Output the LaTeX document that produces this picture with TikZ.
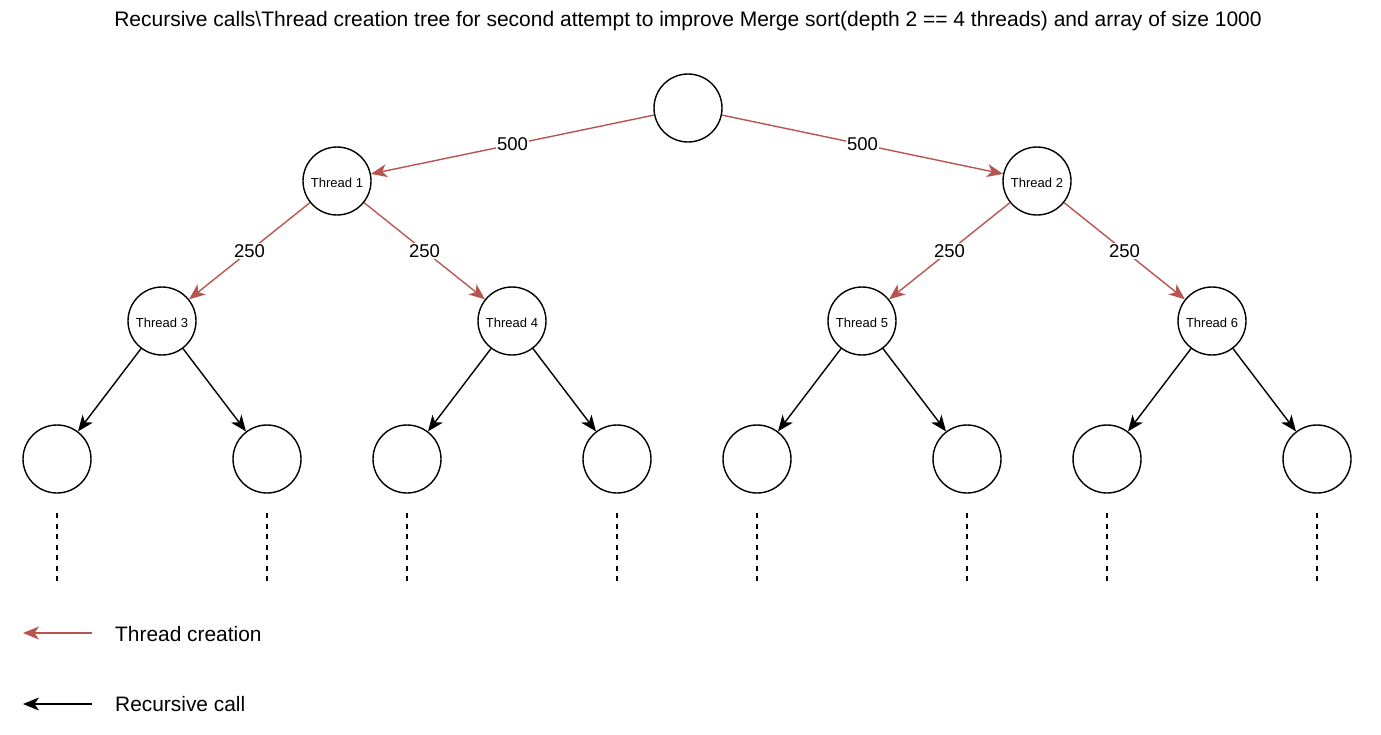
\documentclass[tikz,border=0pt]{standalone}
\usepackage{fontspec}
\setmainfont{Liberation Sans}
\usetikzlibrary{arrows.meta}
\definecolor{tred}{HTML}{B85450}
\tikzset{
  nd/.style={circle,draw=black,line width=1.4pt,minimum size=68pt,inner sep=0pt,font=\fontsize{13}{15}\selectfont},
  redarr/.style={draw=tred,line width=1.4pt,-{Stealth[length=16pt,width=13pt,inset=4.5pt,fill=tred]}},
  blkarr/.style={draw=black,line width=1.4pt,-{Stealth[length=16pt,width=13pt,inset=4.5pt]}},
  lbl/.style={fill=white,inner sep=1pt,font=\fontsize{18.5}{20}\selectfont},
  dots/.style={draw=black,line width=1.5pt,dash pattern=on 5pt off 5.5pt},
  legtxt/.style={anchor=west,inner sep=0pt,font=\fontsize{20.9}{22}\selectfont}
}
\newcommand{\tlab}[1]{\raisebox{-6.5pt}[0pt][0pt]{#1}}
\begin{document}
\begin{tikzpicture}[x=1pt,y=-1pt]
\useasboundingbox (0,0) rectangle (1381,734);
\node[font=\fontsize{21}{23}\selectfont] (title) at (688,21) {Recursive calls\textbackslash Thread creation tree for second attempt to improve Merge sort(depth 2 == 4 threads) and array of size 1000};
\node[nd] (r) at (688,108) {};
\node[nd] (t1) at (337,181) {\tlab{Thread 1}};
\node[nd] (t2) at (1037,181) {\tlab{Thread 2}};
\node[nd] (t3) at (162,321) {\tlab{Thread 3}};
\node[nd] (t4) at (512,321) {\tlab{Thread 4}};
\node[nd] (t5) at (862,321) {\tlab{Thread 5}};
\node[nd] (t6) at (1212,321) {\tlab{Thread 6}};
\foreach \i/\x in {1/57,2/267,3/407,4/617,5/757,6/967,7/1107,8/1317}{
  \node[nd] (l\i) at (\x,459) {};
  \coordinate (da\i) at (\x,513);
  \coordinate (db\i) at (\x,581);
  \draw[dots] (da\i) -- (db\i);
}
\draw[redarr] (r) -- node[lbl]{500} (t1);
\draw[redarr] (r) -- node[lbl]{500} (t2);
\draw[redarr] (t1) -- node[lbl]{250} (t3);
\draw[redarr] (t1) -- node[lbl]{250} (t4);
\draw[redarr] (t2) -- node[lbl]{250} (t5);
\draw[redarr] (t2) -- node[lbl]{250} (t6);
\draw[blkarr] (t3) -- (l1);
\draw[blkarr] (t3) -- (l2);
\draw[blkarr] (t4) -- (l3);
\draw[blkarr] (t4) -- (l4);
\draw[blkarr] (t5) -- (l5);
\draw[blkarr] (t5) -- (l6);
\draw[blkarr] (t6) -- (l7);
\draw[blkarr] (t6) -- (l8);
% legend
\coordinate (ra) at (92,633);
\coordinate (rb) at (23,633);
\coordinate (ba) at (92,704);
\coordinate (bb) at (23,704);
\draw[redarr] (ra) -- (rb);
\draw[blkarr] (ba) -- (bb);
\node[legtxt] (lt1) at (115,634) {Thread creation};
\node[legtxt] (lt2) at (115,704) {Recursive call};
\end{tikzpicture}
\end{document}
